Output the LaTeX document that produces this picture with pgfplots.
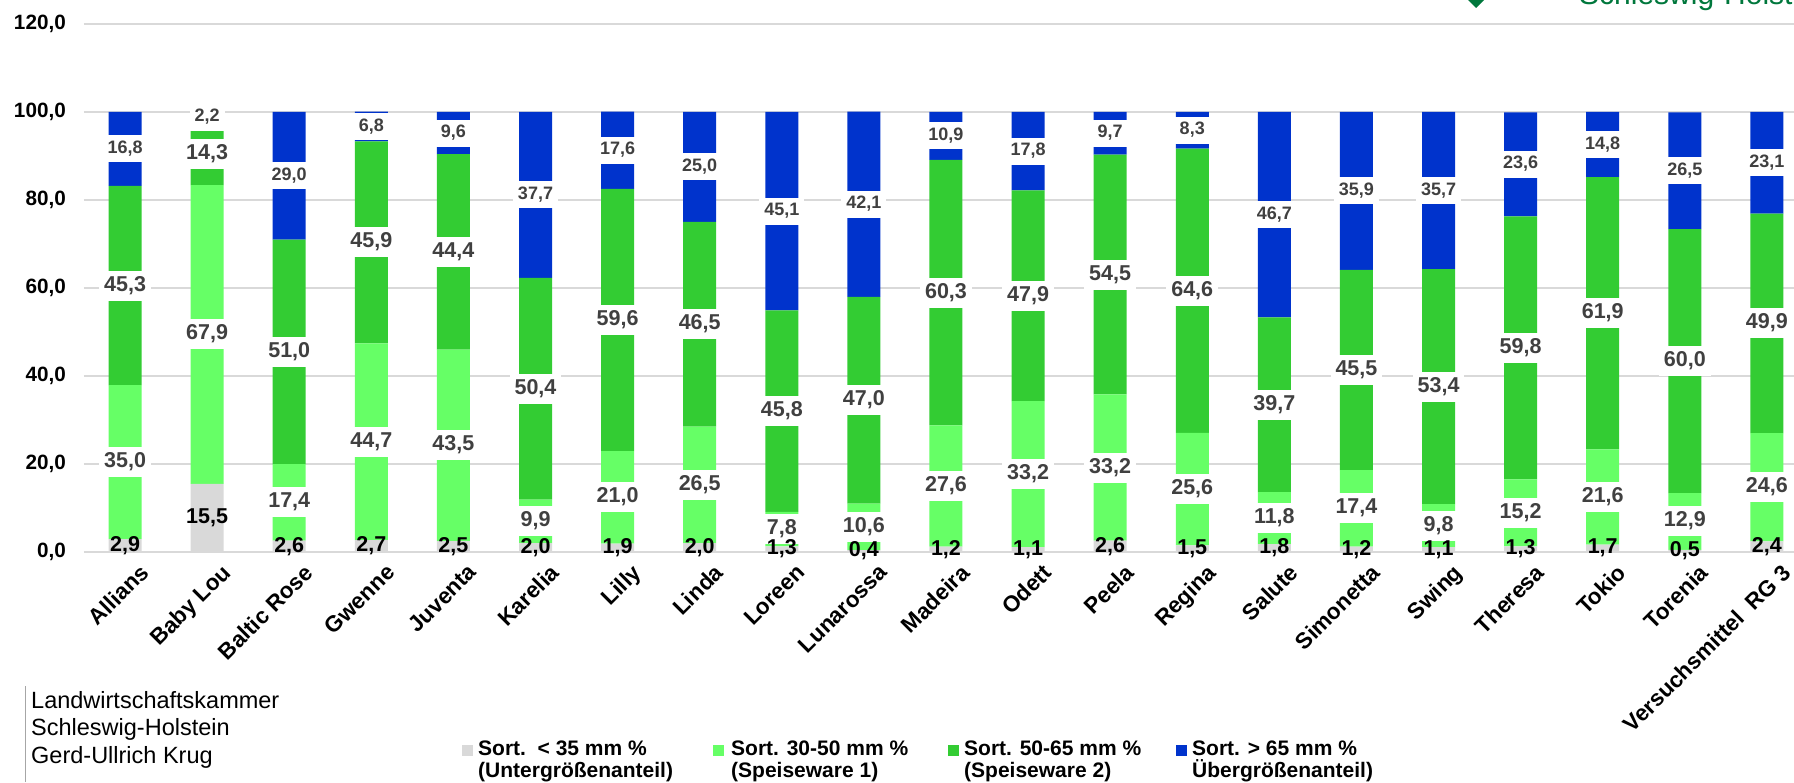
\documentclass[border=0pt]{standalone}
\usepackage{fontspec}
\setmainfont{Liberation Sans}
\usepackage{pgfplots}
\usepackage{pgfplotstable}
\pgfplotsset{compat=1.18}

\definecolor{cgrey}{HTML}{D9D9D9}
\definecolor{clight}{HTML}{66FF66}
\definecolor{cgreen}{HTML}{33CC33}
\definecolor{cblue}{HTML}{0033CC}
\definecolor{cgrid}{HTML}{D9D9D9}
\definecolor{clabel}{HTML}{404040}
\definecolor{clogo}{HTML}{00773C}

\newcommand\lblfont{\fontsize{21.5}{24}\selectfont\bfseries}
\newcommand\smlfont{\fontsize{18}{20}\selectfont\bfseries}
\newcommand\tickfont{\fontsize{20.7}{24}\selectfont\bfseries}
\newcommand\catfont{\fontsize{22.5}{26}\selectfont\bfseries}
\newcommand\num[1]{\pgfmathprintnumber[fixed,fixed zerofill,precision=1,use comma,assume math mode=true]{#1}}

% a = Sort. < 35 mm, b = 30-50 mm, c = 50-65 mm, d = > 65 mm (all in %)
\pgfplotstableread{
idx a    b    c    d
0   2.9  35.0 45.3 16.8
1   15.5 67.9 14.3 2.2
2   2.6  17.4 51.0 29.0
3   2.7  44.7 45.9 6.8
4   2.5  43.5 44.4 9.6
5   2.0  9.9  50.4 37.7
6   1.9  21.0 59.6 17.6
7   2.0  26.5 46.5 25.0
8   1.3  7.8  45.8 45.1
9   0.4  10.6 47.0 42.1
10  1.2  27.6 60.3 10.9
11  1.1  33.2 47.9 17.8
12  2.6  33.2 54.5 9.7
13  1.5  25.6 64.6 8.3
14  1.8  11.8 39.7 46.7
15  1.2  17.4 45.5 35.9
16  1.1  9.8  53.4 35.7
17  1.3  15.2 59.8 23.6
18  1.7  21.6 61.9 14.8
19  0.5  12.9 60.0 26.5
20  2.4  24.6 49.9 23.1
}\sorting

\pgfplotsset{
  frame/.style={
    at={(84pt,230pt)}, anchor=south west,
    scale only axis, width=1710pt, height=528pt,
    xmin=-0.5, xmax=20.33, ymin=0, ymax=120,
  },
  boxlabel/.style n args={3}{
    every node near coord/.append style={anchor=center, fill=white,
      text=clabel, inner xsep=5pt, inner ysep=4.5pt,
      text height=#2, text depth=#3, font=#1},
  },
}

\begin{document}
\begin{tikzpicture}
\path[use as bounding box] (0,0) rectangle (1794pt,782pt);

\begin{axis}[frame,
  ybar stacked, bar width=33pt,
  axis line style={draw=none},
  major tick length=0pt, tick style={draw=none},
  ytick={0,20,...,120},
  ymajorgrids, major grid style={cgrid, line width=1.6pt},
  yticklabel={\num{\tick}},
  y tick label style={anchor=east, inner sep=0pt, xshift=-18pt, font=\tickfont, text=black},
  xtick={0,...,20},
  xticklabels={Allians,Baby Lou,Baltic Rose,Gwenne,Juventa,Karelia,Lilly,Linda,Loreen,Lunarossa,Madeira,Odett,Peela,Regina,Salute,Simonetta,Swing,Theresa,Tokio,Torenia,Versuchsmittel\ \ RG 3},
  x tick label style={rotate=45, anchor=north east, inner sep=0pt, xshift=2pt, yshift=-17pt, font=\catfont, text=black},
]
\addplot[fill=cgrey, draw=none] table[x=idx, y=a] {\sorting};
\addplot[fill=clight, draw=none] table[x=idx, y=b] {\sorting};
\addplot[fill=cgreen, draw=none] table[x=idx, y=c] {\sorting};
\addplot[fill=cblue, draw=none] table[x=idx, y=d] {\sorting};
\end{axis}

% value labels, centred in each segment
\begin{axis}[frame, hide axis,
  nodes near coords={\num{\pgfplotspointmeta}},
]
\addplot[draw=none, mark=none, point meta=\thisrow{b}, boxlabel={\lblfont}{16pt}{5pt}]
  table[x=idx, y expr=\thisrow{a}+\thisrow{b}/2] {\sorting};
\addplot[draw=none, mark=none, point meta=\thisrow{c}, boxlabel={\lblfont}{16pt}{5pt}]
  table[x=idx, y expr=\thisrow{a}+\thisrow{b}+\thisrow{c}/2] {\sorting};
\addplot[draw=none, mark=none, point meta=\thisrow{d}, boxlabel={\smlfont}{13.5pt}{4.5pt}]
  table[x=idx, y expr=\thisrow{a}+\thisrow{b}+\thisrow{c}+\thisrow{d}/2] {\sorting};
\addplot[draw=none, mark=none, point meta=\thisrow{a},
  every node near coord/.append style={anchor=center, text=black, inner sep=0pt, font=\lblfont}]
  table[x=idx, y expr=\thisrow{a}/2] {\sorting};
\end{axis}

% logo, cut off at the top edge
\fill[clogo] (1476pt,774pt) -- (1464pt,786pt) -- (1476pt,798pt) -- (1488pt,786pt) -- cycle;
\node[anchor=base west, inner sep=0pt, text=clogo, font=\fontsize{30}{36}\selectfont]
  at (1579pt,777pt) {Schleswig-Holstein};

% source
\draw[black!35, line width=0.8pt] (25pt,0pt) -- (25pt,96pt);
\node[anchor=north west, align=left, inner sep=0pt, font=\fontsize{23.5}{27.5}\selectfont]
  at (31pt,91pt) {Landwirtschaftskammer\\Schleswig-Holstein\\Gerd-Ullrich Krug};

% legend
\begin{scope}[every node/.style={anchor=north west, align=left, inner sep=0pt,
    font=\fontsize{21}{22}\selectfont\bfseries}]
  \fill[cgrey]  (462pt,26pt) rectangle ++(11pt,11pt);
  \node at (478pt,41pt) {Sort.\ \ < 35 mm \%\\(Untergrößenanteil)};
  \fill[clight] (713pt,26pt) rectangle ++(11pt,11pt);
  \node at (731pt,41pt) {Sort. 30-50 mm \%\\(Speiseware 1)};
  \fill[cgreen] (948pt,26pt) rectangle ++(11pt,11pt);
  \node at (964pt,41pt) {Sort. 50-65 mm \%\\(Speiseware 2)};
  \fill[cblue]  (1176pt,26pt) rectangle ++(11pt,11pt);
  \node at (1192pt,41pt) {Sort. > 65 mm \%\\Übergrößenanteil)};
\end{scope}
\end{tikzpicture}
\end{document}
